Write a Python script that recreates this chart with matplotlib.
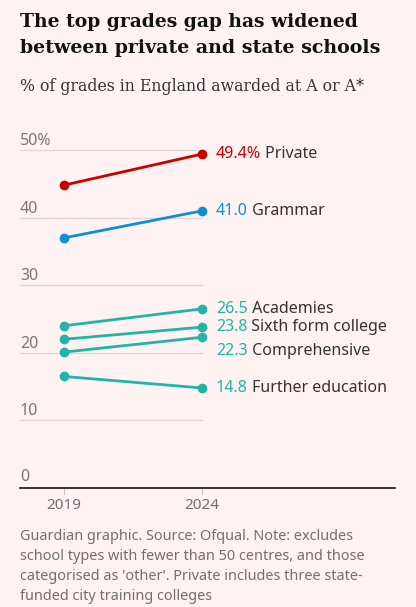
import matplotlib.pyplot as plt

# data
years = ["2019", "2024"]
school_types = ["Private", "Grammar", "Academies", "Sixth form college",
                "Comprehensive", "Further education"]
grades_2019 = [44.8, 37.0, 24.0, 22.0, 20.1, 16.5]
grades_2024 = [49.4, 41.0, 26.5, 23.8, 22.3, 14.8]
value_labels = ["49.4%", "41.0", "26.5", "23.8", "22.3", "14.8"]
y_ticks = [0, 10, 20, 30, 40, 50]

RED = "#c70000"
BLUE = "#0f8ed6"
TEAL = "#22b4a5"
colours = [RED, BLUE, TEAL, TEAL, TEAL, TEAL]
BG = "#fef3f2"
GREY = "#707070"
DARK = "#121212"

W, H = 416, 607
fig = plt.figure(figsize=(W / 100, H / 100), dpi=100, facecolor=BG)

# axes placed in pixel terms: left 20, right 395, y=0 at 488, y=50 at 150
ax = fig.add_axes([20 / W, (H - 488) / H, 375 / W, 338 / H])
ax.set_facecolor(BG)
x0 = -44 / 138
x1 = 1 + 193 / 138
ax.set_xlim(x0, x1)
ax.set_ylim(0, 50)
for s in ax.spines.values():
    s.set_visible(False)
ax.set_xticks([])
ax.set_yticks([])

# gridlines
for t in y_ticks[1:]:
    ax.plot([x0, 1], [t, t], color="#dcd6d5", lw=0.9, zorder=1, clip_on=False)
    lab = f"{t}%" if t == 50 else str(t)
    ax.annotate(lab, (x0, t), xytext=(0, 5), textcoords="offset pixels",
                ha="left", va="baseline", fontsize=11.5, color="#7a7676",
                family="Noto Sans")
ax.annotate("0", (x0, 0), xytext=(0, 7), textcoords="offset pixels",
            ha="left", va="baseline", fontsize=11.5, color="#7a7676",
            family="Noto Sans")

# baseline and ticks
ax.plot([x0, x1], [0, 0], color=DARK, lw=1.2, zorder=3, clip_on=False)
for i, yr in enumerate(years):
    ax.plot([i, i], [0, -0.9], color="#c8c2c1", lw=0.8, clip_on=False)
    ax.annotate(yr, (i, 0), xytext=(0, -21), textcoords="offset pixels",
                ha="center", va="baseline", fontsize=11, color=GREY,
                family="Noto Sans")

# series
fig.canvas.draw()
for name, a, b, c, vl in zip(school_types, grades_2019, grades_2024,
                             colours, value_labels):
    ax.plot([0, 1], [a, b], color=c, lw=2, marker="o", ms=6,
            zorder=4, clip_on=False)
    y_lab = b
    if name == "Comprehensive":
        y_lab = b - 2.1
    t = ax.annotate(vl, (1, y_lab), xytext=(14, 0), textcoords="offset pixels",
                    ha="left", va="center", fontsize=11.5, color=c,
                    family="Noto Sans")
    fig.canvas.draw()
    bb = t.get_window_extent()
    ax.annotate(" " + name, (bb.x1, (bb.y0 + bb.y1) / 2), xycoords="figure pixels",
                ha="left", va="center", fontsize=11.5, color="#333333",
                family="Noto Sans")


def px(x, y):
    return x / W, 1 - y / H


def fit_text(x, y, s, width, size, **kw):
    # shrink a line of text until it spans the given pixel width
    t = fig.text(*px(x, y), s, fontsize=size, va="baseline", **kw)
    fig.canvas.draw()
    w = t.get_window_extent().width
    t.set_fontsize(size * width / w)
    return t


fit_text(20, 27, "The top grades gap has widened", 340, 15,
         fontweight="bold", family="DejaVu Serif", color=DARK)
fit_text(20, 53, "between private and state schools", 363, 15,
         fontweight="bold", family="DejaVu Serif", color=DARK)
fit_text(20, 91, "% of grades in England awarded at A or A*", 345, 11.5,
         family="DejaVu Serif", color="#333333")

footer = ["Guardian graphic. Source: Ofqual. Note: excludes",
          "school types with fewer than 50 centres, and those",
          "categorised as 'other'. Private includes three state-",
          "funded city training colleges"]
for i, line in enumerate(footer):
    fig.text(*px(20, 540 + 20 * i), line, fontsize=10.4, family="Noto Sans",
             color=GREY, va="baseline")

fig.savefig("out.png", dpi=100, facecolor=BG)
